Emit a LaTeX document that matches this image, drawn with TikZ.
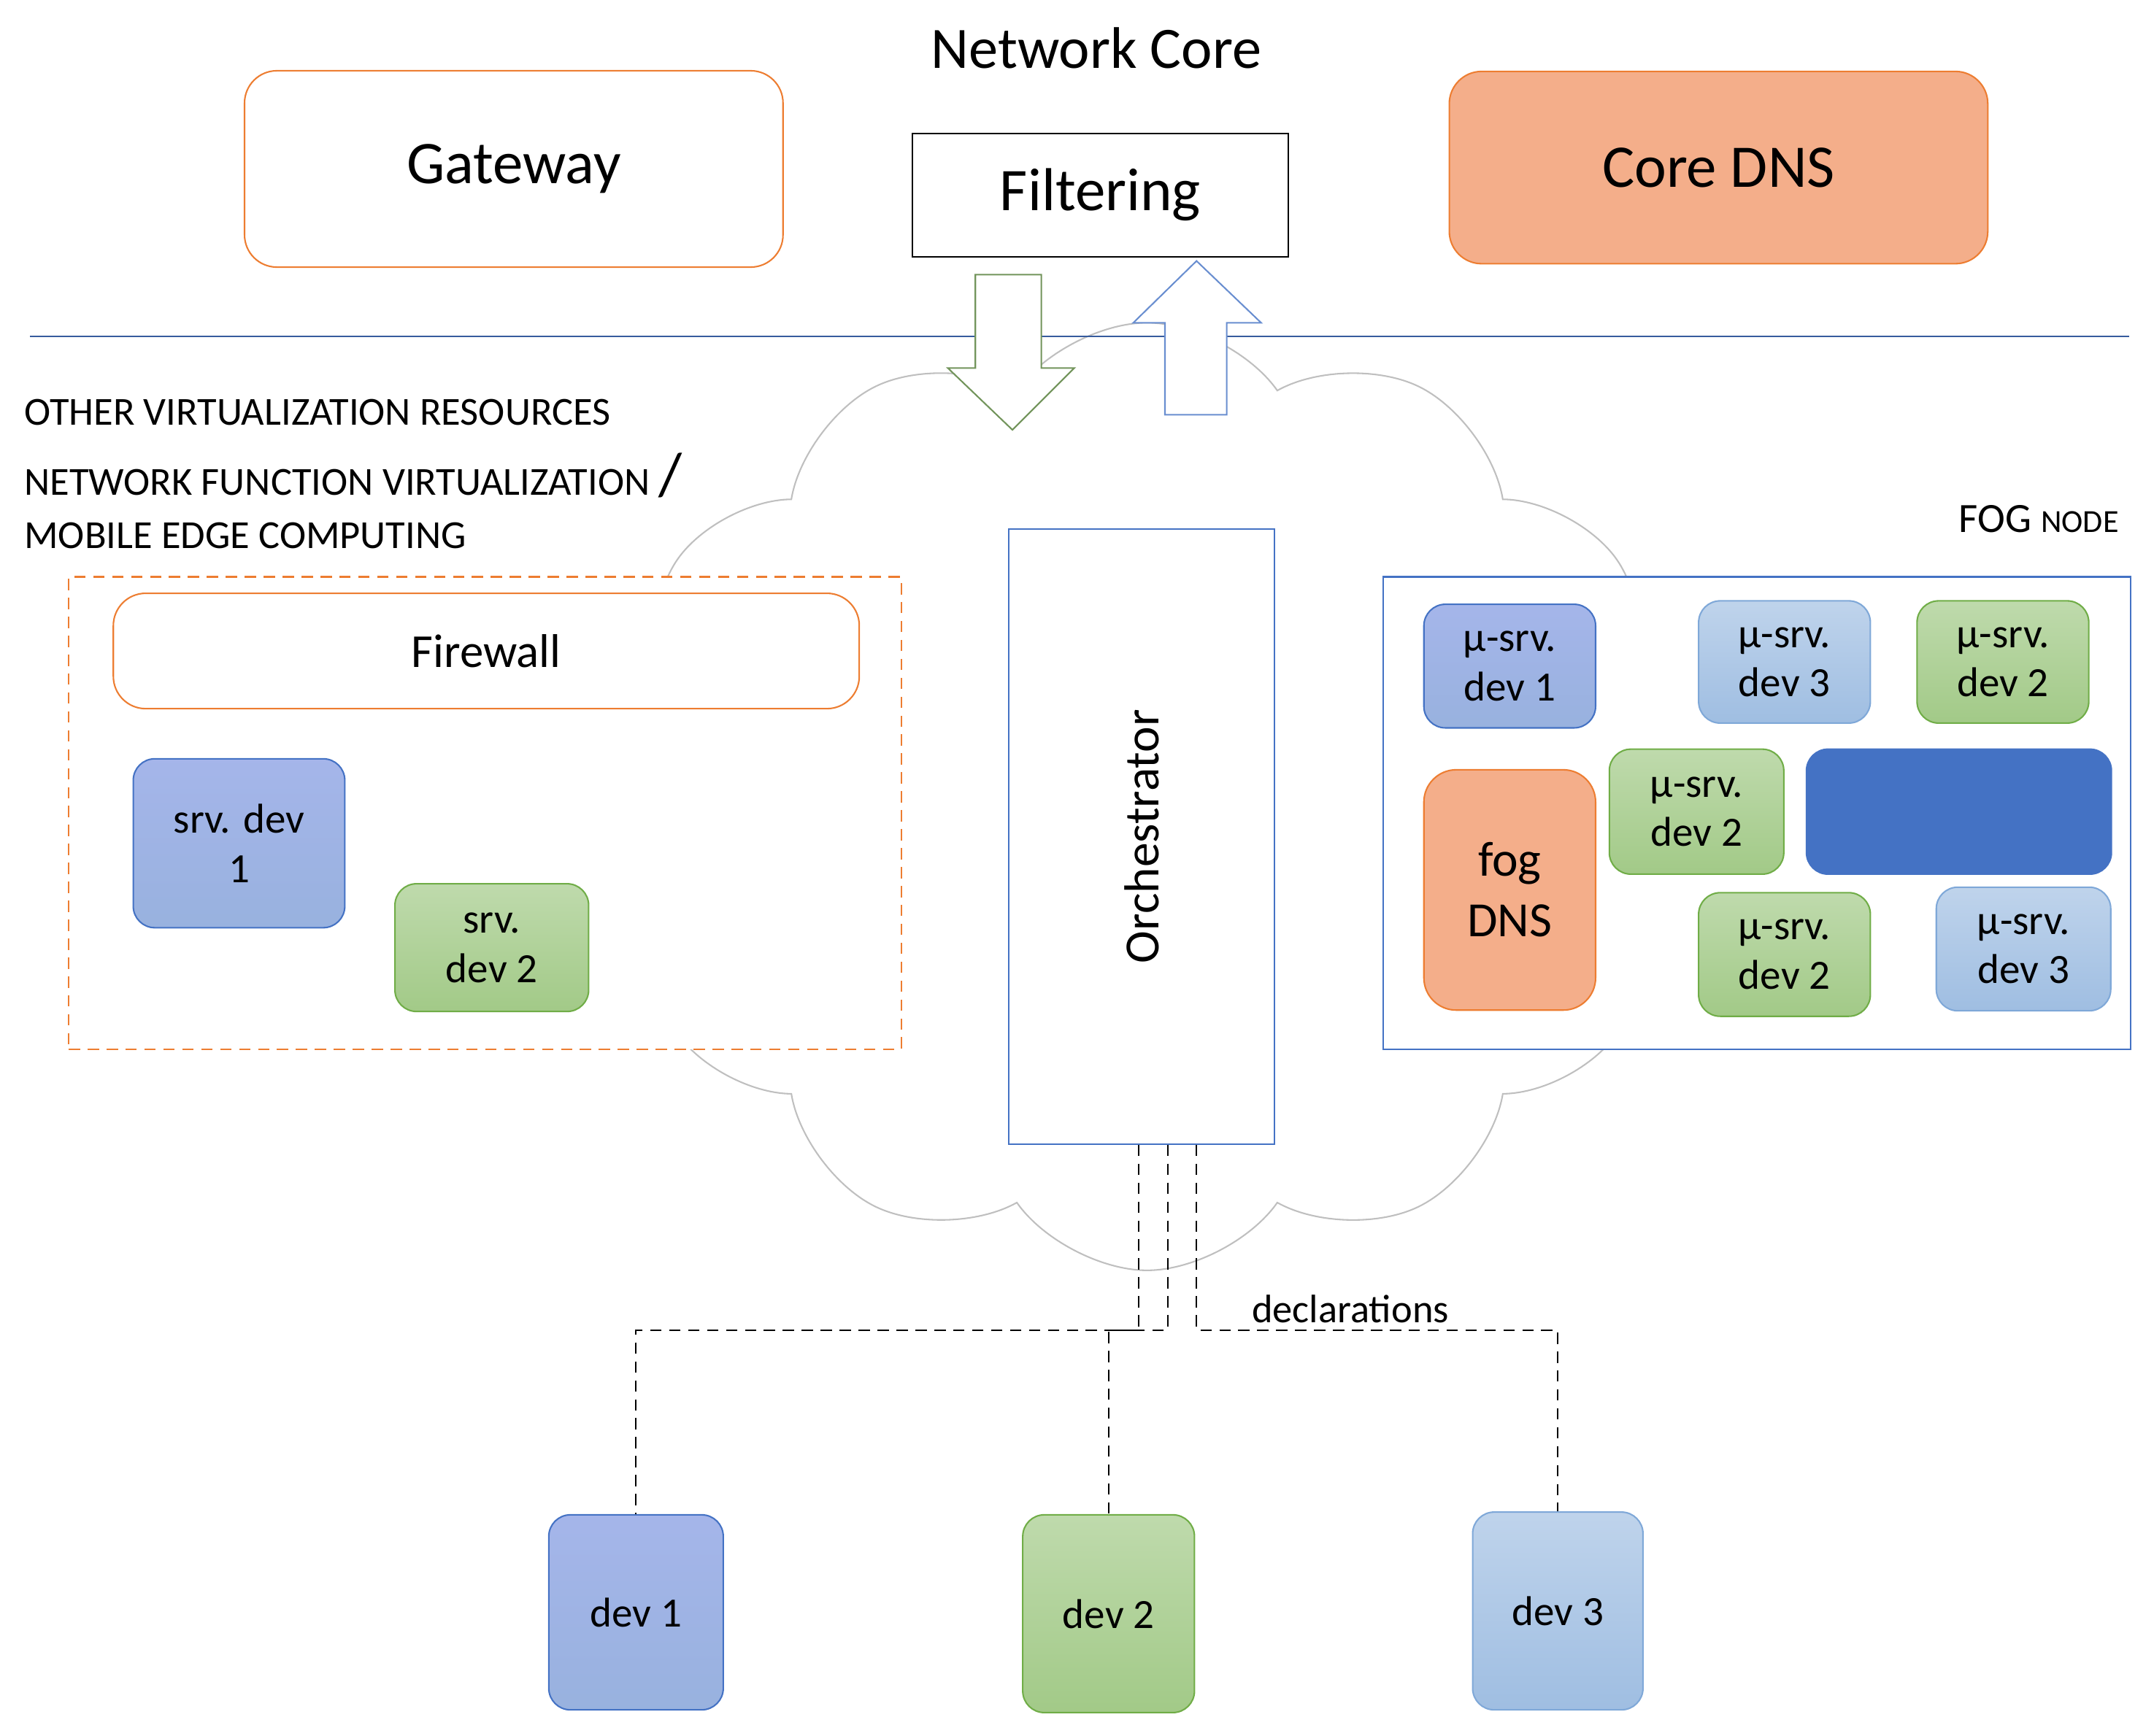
\documentclass[tikz,border=0pt]{standalone}
\usepackage{fontspec}
\setmainfont{Carlito}
\usetikzlibrary{shapes.symbols,calc}
\definecolor{orng}{HTML}{ED7D31}
\definecolor{dns}{HTML}{F4AE8A}
\definecolor{bl}{HTML}{4472C4}
\definecolor{gr}{HTML}{70AD47}
\definecolor{lb}{HTML}{7FA8D8}
\tikzset{
  dv1/.style={rounded corners=2mm, draw=bl, top color=blue!20!bl!45!white, bottom color=bl!55!white, font=\fontsize{11}{13}\selectfont, align=center},
  dv2/.style={rounded corners=2mm, draw=gr, top color=gr!45!white, bottom color=gr!65!white, font=\fontsize{11}{13}\selectfont, align=center},
  dv3/.style={rounded corners=2mm, draw=lb, top color=lb!50!white, bottom color=lb!75!white, font=\fontsize{11}{13}\selectfont, align=center},
  vtext/.style={anchor=west, font=\fontsize{10.5}{12}\selectfont},
  decl/.style={densely dashed, thin}
}
\newcommand{\rbox}[6]{\node[#1, minimum width=#4*1.275mm/10, minimum height=#5*1.275mm/10, inner sep=0pt] (#2) at (#3) {#6};}
\begin{document}
\begin{tikzpicture}[x=0.1275mm,y=-0.1275mm]
\useasboundingbox (0,0) rectangle (1568,1264);
% cloud
\node[cloud, cloud puffs=12, cloud puff arc=110, draw=black!25, aspect=1.15, minimum width=790*1.275mm/10, minimum height=690*1.275mm/10] (cloud) at (835,580) {};
% network core
\node[font=\fontsize{15.5}{18}\selectfont] (core) at (798,35) {Network Core};
\rbox{draw=orng, rounded corners=3mm, fill=white, font=\fontsize{16}{18}\selectfont}{gw}{374,123}{392}{143}{Gateway}
\rbox{draw=black, fill=white, font=\fontsize{16}{18}\selectfont}{filt}{801,142}{274}{90}{Filtering}
\rbox{draw=orng, rounded corners=3mm, fill=dns, font=\fontsize{16}{18}\selectfont}{cdns}{1251,122}{392}{140}{Core DNS}
\draw[bl!80!black] (22,245) -- (1550,245);
% arrows
\draw[gr!70!black!80, fill=white] (710,200) -- (758,200) -- (758,268) -- (782,268) -- (737,313) -- (690,268) -- (710,268) -- cycle;
\draw[bl!80, fill=white] (848,302) -- (893,302) -- (893,235) -- (918,235) -- (871,190) -- (825,235) -- (848,235) -- cycle;
% left texts
\node[vtext] (t1) at (8,300) {OTHER VIRTUALIZATION RESOURCES};
\node[vtext] (t2) at (8,346) {NETWORK FUNCTION VIRTUALIZATION \fontsize{16}{16}\selectfont/};
\node[vtext] (t3) at (8,390) {MOBILE EDGE COMPUTING};
% virtualization box
\rbox{draw=orng, densely dashed, fill=white}{vbox}{353,592}{606}{344}{}
\rbox{draw=orng, rounded corners=3mm, fill=white, font=\fontsize{12.5}{15}\selectfont}{fw}{354,474}{543}{84}{Firewall}
\rbox{dv1}{sd1}{174,614}{154}{123}{srv. dev\\1}
\rbox{dv2}{sd2}{358,690}{141}{93}{srv.\\dev 2}
% orchestrator
\rbox{draw=bl, fill=white}{orch}{831,609}{193}{448}{}
\node[rotate=90, font=\fontsize{13}{15}\selectfont] (orcht) at (orch.center) {Orchestrator};
% fog node
\node[anchor=east, font=\fontsize{11}{13}\selectfont] (fogt) at (1552,378) {FOG {\fontsize{8.5}{10}\selectfont NODE}};
\rbox{draw=bl, fill=white}{fog}{1279,592}{544}{344}{}
\rbox{dv1}{m1}{1099,485}{125}{90}{µ-srv.\\dev 1}
\rbox{dv3}{m2}{1299,482}{125}{89}{µ-srv.\\dev 3}
\rbox{dv2}{m3}{1458,482}{125}{89}{µ-srv.\\dev 2}
\rbox{draw=orng, rounded corners=3mm, fill=dns, font=\fontsize{13}{16}\selectfont, align=center}{fdns}{1099,648}{125}{175}{fog\\DNS}
\rbox{dv2}{m4}{1235,591}{127}{91}{µ-srv.\\dev 2}
\rbox{draw=bl, rounded corners=2mm, fill=bl}{bar}{1426,591}{222}{91}{}
\rbox{dv2}{m5}{1299,695}{125}{90}{µ-srv.\\dev 2}
\rbox{dv3}{m6}{1473,691}{127}{90}{µ-srv.\\dev 3}
% devices
\rbox{dv1}{d1}{463,1174}{127}{142}{dev 1}
\rbox{dv2}{d2}{807,1175}{125}{144}{dev 2}
\rbox{dv3}{d3}{1134,1173}{124}{144}{dev 3}
% declarations
\draw[decl] ($(orch.south)+(-2,0)$) -- ++(0,135) -| (d1.north);
\draw[decl] ($(orch.south)+(19,0)$) -- ++(0,135) -| (d2.north);
\draw[decl] ($(orch.south)+(40,0)$) -- ++(0,135) -| (d3.north);
\node[font=\fontsize{10.5}{12}\selectfont] (declt) at (983,953) {declarations};
\end{tikzpicture}
\end{document}
